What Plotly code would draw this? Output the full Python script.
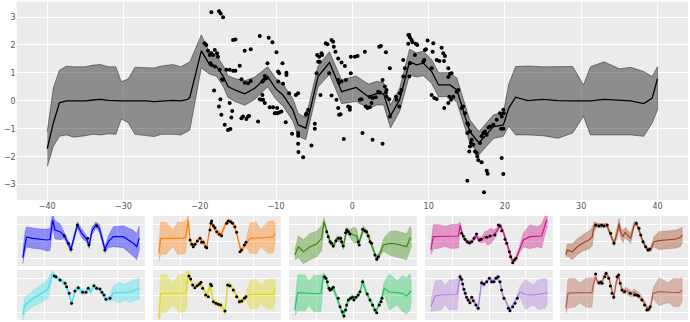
import plotly.graph_objects as go

# ---------------- main panel: pooled posterior (mean and 2-sigma band) ----------------
grid_x = [-40, -39.2, -38.4, -37.5, -36.5, -35, -34, -33, -32, -31, -30.3, -29.4, -28.5,
          -27, -26, -25, -23.5, -22.5, -21.6, -21.3, -19.8, -18.7, -17.8, -16.9, -16.3,
          -15.4, -14.1, -12.8, -11.1, -10.0, -9.1, -7.8, -7.1, -6.1, -4.5, -3.0, -1.4,
          0.5, 2.1, 3.2, 4.1, 5.0, 6.2, 7.5, 8.4, 9.3, 10.4, 11.3, 12.8, 13.7, 14.5,
          15.4, 16.6, 17.4, 18.5, 19.8, 20.5, 21.4, 23, 25, 27, 28.9, 30.3, 31.2, 33,
          35, 36.5, 38.2, 39.3, 40]
grid_mean = [-1.71, -0.80, -0.07, 0.00, 0.00, 0.00, 0.03, 0.05, 0.02, 0.00, 0.00, 0.00, 0.00,
             0.00, -0.03, 0.00, 0.02, 0.00, 0.05, 0.13, 1.79, 1.29, 1.23, 0.87, 0.51,
             0.39, 0.25, 0.45, 0.87, 0.42, 0.21, -0.32, -0.86, -0.98, 0.87, 1.37, 0.33,
             0.48, 0.15, 0.27, 0.25, -0.54, 0.04, 1.40, 1.29, 1.35, 1.05, 0.57, 0.57, 0.39, -0.32,
             -1.10, -1.51, -1.27, -0.92, -0.86, -0.26, 0.13, 0.01, 0.05, 0.01, 0.00, 0.00, 0.00, 0.05,
             0.02, 0.00, -0.10, 0.10, 0.79]
grid_upper = [-1.10, 0.46, 1.10, 1.24, 1.22, 1.22, 1.28, 1.30, 1.22, 1.22, 0.69, 0.78, 1.20,
              1.18, 1.18, 1.25, 1.30, 1.22, 1.35, 1.40, 2.36, 1.72, 1.62, 1.25, 0.90,
              0.80, 0.72, 0.85, 1.22, 0.80, 0.60, 0.08, -0.45, -0.60, 1.25, 1.76, 0.75,
              0.89, 0.60, 0.70, 0.65, -0.15, 0.45, 1.85, 1.72, 1.78, 1.48, 1.01, 1.01, 0.82, 0.10,
              -0.68, -1.10, -0.85, -0.50, -0.40, 0.60, 1.23, 1.25, 1.22, 1.22, 1.23, 0.57, 1.22, 1.40,
              1.15, 1.20, 1.05, 0.87, 1.22]
grid_lower = [-2.36, -1.63, -1.27, -1.22, -1.30, -1.25, -1.20, -1.22, -1.18, -1.20, -0.65, -0.78, -1.20,
              -1.25, -1.28, -1.20, -1.20, -1.22, -1.10, -1.04, 1.18, 0.95, 0.88, 0.50, 0.12,
              -0.02, -0.16, 0.05, 0.50, 0.05, -0.18, -0.72, -1.27, -1.39, 0.50, 0.95, -0.10,
              -0.02, -0.28, -0.15, -0.15, -0.97, -0.38, 0.93, 0.85, 0.90, 0.62, 0.15, 0.15, -0.05, -0.75,
              -1.52, -1.93, -1.70, -1.35, -1.27, -0.90, -1.22, -1.22, -1.25, -1.34, -1.15, -0.56, -1.22, -1.22,
              -1.22, -1.22, -1.27, -0.80, -0.33]

# observations from all ten outputs, pooled
obs_points = [
    (-18.48, 3.17), (-17.48, 3.21), (-17.26, 3.13), (-16.95, 2.99),
    (-19.36, 2.06), (-19.14, 2.0), (-18.92, 1.79), (-18.48, 1.70), (-18.70, 1.64), (-18.26, 1.64),
    (-18.04, 1.82), (-17.74, 1.70), (-17.61, 1.58), (-18.61, 1.35), (-18.48, 1.29), (-18.04, 1.23),
    (-17.39, 1.11), (-15.64, 2.18), (-15.33, 2.20), (-14.11, 1.79), (-13.32, 1.85), (-14.76, 1.26),
    (-12.14, 2.32), (-10.96, 2.26), (-10.48, 2.10), (-9.95, 1.74), (-11.13, 1.35), (-9.16, 1.35),
    (-9.73, 1.05), (-9.60, 0.99), (-8.64, 1.01), (-8.64, 0.93),
    (-16.51, 1.11), (-16.08, 1.11), (-15.64, 1.08), (-15.33, 1.08), (-17.08, 0.77), (-16.95, 0.75),
    (-14.54, 0.77), (-14.11, 0.65), (-13.67, 0.63), (-13.32, 0.71),
    (-11.48, 0.89), (-11.26, 0.81), (-11.61, 0.75), (-11.79, 0.69), (-9.73, 0.69), (-9.08, 0.61),
    (-8.29, 0.27), (-7.41, 0.21), (-7.11, 0.27), (-18.13, 0.37), (-17.30, 0.06), (-17.48, -0.2),
    (-16.08, -0.08), (-15.75, -0.36), (-17.17, -0.5), (-15.86, -0.6),
    (-16.73, -0.86), (-16.30, -1.04), (-15.99, -1.01),
    (-14.54, -0.62), (-14.33, -0.56), (-13.89, -0.65), (-13.67, -0.56), (-13.54, -0.54), (-12.36, -0.74),
    (-12.14, 0.06), (-11.92, 0.04), (-11.70, 0.04), (-11.48, -0.08), (-11.79, 0.21),
    (-10.83, -0.23), (-10.39, -0.23), (-9.86, -0.26), (-10.04, -0.44), (-10.17, -0.44), (-9.86, -0.44),
    (-9.60, -0.42), (-9.30, -0.38), (-8.73, -0.77), (-7.90, -1.18),
    (-7.11, -1.15), (-7.11, -1.25), (-7.11, -1.54), (-7.07, -1.83),
    (-6.45, -2.02), (-6.10, -0.5), (-6.01, -0.44), (-5.80, -0.32), (-5.36, -1.60),
    (-4.92, -0.82), (-4.92, -1.0),
    (-4.62, 1.64), (-4.35, 1.58), (-4.48, 1.40), (-4.70, 0.99), (-4.05, 1.70), (-3.96, 1.64), (-4.27, 1.40),
    (-4.18, 0.21), (-3.48, 2.06), (-3.26, 2.03), (-2.73, 2.18), (-2.52, 2.12), (-2.43, 1.94), (-2.21, 1.76),
    (-3.04, 0.99), (-2.73, 0.19), (-2.08, 0.04), (-1.86, 1.52), (-1.42, 1.37), (-0.98, 1.25),
    (-1.86, 0.75), (-1.73, 0.65), (-1.42, 0.69), (-0.85, 0.75),
    (-1.86, -0.26), (-1.73, -0.5), (-1.55, -0.48), (-0.55, -0.2), (-0.33, -0.32), (-0.33, -0.23),
    (-0.20, 0.99), (-0.20, 1.58), (0.33, 1.58), (0.68, 1.61), (-1.12, -1.37),
    (0.98, 0.04), (1.20, 0.06), (1.33, -1.15), (1.64, 1.76),
    (1.77, -0.2), (1.99, -0.26), (2.30, -0.23), (2.52, -0.08), (2.30, 0.15), (2.65, 0.10), (3.08, 0.13),
    (3.39, 0.33), (3.61, 0.30), (3.96, 0.75), (4.27, 0.51), (4.48, 0.39), (4.40, 0.30), (4.48, 0.15),
    (4.83, 0.06), (4.92, -0.56), (5.71, 0.15), (5.80, 0.04),
    (2.65, -1.39), (3.52, 1.94), (3.74, 1.96), (3.96, -1.54), (4.40, 1.74), (4.92, 1.17),
    (6.15, -0.2), (6.23, 0.27), (6.45, 0.39), (6.67, 0.87), (6.67, 1.46), (6.89, 1.17),
    (7.33, 2.36), (7.46, 2.36), (7.55, 2.27), (7.33, 2.04), (7.76, 2.18), (7.90, 2.10),
    (7.55, 1.35), (7.46, 0.87), (8.33, 2.04), (8.51, 2.0), (8.20, 1.64),
    (9.30, 1.40), (9.43, 1.46), (9.65, 1.85), (9.51, 1.82),
    (9.86, 2.16), (10.61, 2.06), (10.52, 1.76), (11.05, 1.46), (11.70, 1.90), (11.92, 1.70),
    (12.14, 1.61), (12.01, 1.43), (11.40, 1.43),
    (10.39, 1.17), (12.58, 1.17), (12.58, 0.85), (12.80, 0.96),
    (10.39, 0.21), (10.74, 0.10), (11.05, 0.07), (12.05, -0.26), (12.58, -0.08), (12.71, 0.15),
    (12.93, 0.04), (13.23, 0.15), (13.67, 0.33), (13.89, 0.39), (13.01, 0.99),
    (14.33, -0.26), (14.54, -0.2), (14.76, -0.44), (15.07, -0.80), (15.20, -0.86), (15.42, -1.10),
    (15.07, -1.15), (15.64, -1.39), (15.55, -1.51), (15.42, -1.63), (15.86, -1.57), (15.33, -1.81),
    (16.08, -1.81), (16.30, -1.87), (16.38, -1.99), (16.73, -1.51), (16.95, -1.27), (17.17, -1.15),
    (17.39, -1.10), (17.61, -1.21), (17.83, -0.95), (18.04, -0.92), (18.48, -0.86), (18.92, -0.68),
    (19.36, -0.44), (19.58, -0.56), (19.79, -0.32), (19.85, -0.44), (19.5, -1.0), (19.8, -1.0),
    (16.51, -2.13), (16.95, -2.20), (17.61, -2.5), (17.74, -2.61), (15.07, -2.86), (17.26, -3.27),
    (19.58, -2.05), (19.79, -2.62),
]

# ---------------- ten individual outputs: mean, 2-sigma half width, observations ----------------
o1_x = [-40, -38.5, -37.5, -33, -28, -23.5, -21.3, -19.5, -17.9, -14.4, -11.5, -8.7, -6.9, -2.5, 0.5,
        3.8, 5.6, 7.5, 10.3, 12.6, 16.5, 18.8, 22.2, 29.1, 36.0, 38.3, 40]
o1_mean = [-1.67, -0.1, 0.4, 0.27, 0.2, 0.1, 0.15, 2.1, 1.1, 0.93, 0.53, -0.23, -0.83, 1.6, 0.77,
           0.2, -0.45, 1.0, 1.6, 1.27, -0.85, -0.07, 0.43, 0.43, -0.23, -0.57, 0.27]
o1_sd = [0.6, 1.0, 1.0, 1.0, 1.0, 1.1, 1.1, 0.8, 0.9, 0.8, 0.3, 0.3, 0.3, 0.3, 0.45,
         0.3, 0.3, 0.4, 0.3, 0.4, 0.3, 0.6, 1.0, 1.1, 1.3, 1.3, 1.2]
o1_obs = [(-11.5, 0.53), (-8.7, -0.23), (-6.9, -0.83), (-2.5, 1.6), (4.6, 0.27), (5.5, -0.4),
          (10.8, 1.53), (16.4, -0.9)]

o2_x = [-40, -38.7, -35, -30.3, -27, -24, -21.5, -19.7, -18.6, -16.3, -14.5, -11.7, -9.4, -7.1,
        -4.1, -2.5, -0.2, 2.7, 6.65, 8.9, 11.2, 13.5, 16.5, 19.9, 22.7, 27, 30.3, 35, 38.7, 40]
o2_mean = [-1.23, 0.27, 0.27, 0.27, 0.27, 0.27, 0.4, 2.1, 0.1, -0.57, -0.23, 0.27, -0.13, -0.67,
           1.93, 1.43, 0.93, 0.6, 1.93, 2.0, 1.77, 0.77, -1.0, -0.23, 0.27, 0.3, 0.3, 0.35, 0.43, 0.77]
o2_sd = [0.9, 1.6, 1.6, 0.85, 1.6, 1.6, 1.6, 0.5, 0.2, 0.2, 0.2, 0.2, 0.2, 0.2,
         0.2, 0.25, 0.3, 0.3, 0.2, 0.2, 0.2, 0.2, 0.2, 0.3, 1.5, 1.6, 0.85, 1.6, 1.6, 1.0]
o2_obs = [(-18.56, 0.1), (-17.4, -0.33), (-16.3, -0.57), (-15.2, -0.33), (-13.6, 0.0), (-11.7, 0.27),
          (-10.6, -0.13), (-9.4, -0.13), (-7.8, -0.57), (-7.1, -0.67), (-4.8, 1.1), (-4.1, 1.77),
          (-3.7, 2.0), (-2.5, 1.53), (-1.4, 1.33), (-0.2, 0.93), (1.6, 0.67), (3.2, 0.53), (6.65, 1.77),
          (7.8, 2.0), (9.4, 1.93), (10.7, 1.77), (12.3, 1.43), (13.5, 0.87), (15.8, -1.07), (16.9, -0.9),
          (18.8, -0.4), (19.9, -0.13)]

o3_x = [-40, -37.6, -34.1, -29.6, -25, -21.5, -19.9, -18.0, -15.8, -13.5, -11.2, -8.5, -6.7, -4.35,
        -2.1, 0.5, 2.5, 4.1, 7.1, 9.85, 12.8, 16.3, 18.6, 20.9, 25.4, 30, 36.9, 39.2, 40]
o3_mean = [-1.4, -0.57, -1.07, -0.57, -0.3, 0.27, 1.93, 0.93, -0.07, -0.5, 0.2, 0.2, -0.57, 1.1,
           0.77, 0.6, 0.5, -0.23, 1.2, 0.77, -0.4, -1.8, -1.23, -0.4, -0.23, -0.3, -0.57, 0.27, 0.3]
o3_sd = [0.5, 1.1, 1.2, 1.3, 1.3, 1.2, 0.4, 0.25, 0.25, 0.25, 0.25, 0.3, 0.3, 0.3,
         0.35, 0.8, 0.7, 0.3, 0.3, 0.25, 0.25, 0.25, 0.25, 0.6, 1.2, 1.3, 1.3, 1.2, 0.9]
o3_obs = [(-18.1, 0.93), (-17.0, 0.43), (-15.8, -0.07), (-14.7, -0.23), (-13.5, -0.5), (-11.7, 0.03),
          (-10.1, 0.27), (-8.5, 0.27), (-7.8, -0.07), (-6.7, -0.5), (-5.1, 0.83), (-4.4, 1.1),
          (-3.2, 0.93), (-2.1, 0.7), (3.6, -0.07), (4.3, -0.4), (6.6, 1.17), (8.2, 1.03), (9.4, 0.93),
          (10.5, 0.5), (11.7, -0.07), (12.8, -0.23), (15.1, -1.4), (16.3, -1.83), (17.4, -1.57)]

o4_x = [-40, -38.3, -35, -30.3, -26, -21, -19.9, -18.1, -15.4, -13.1, -10.8, -9.0, -7.4, -5.0,
        -2.7, -1.1, 1.0, 3.0, 5.0, 7.6, 9.4, 12.15, 14.4, 16.3, 18.6, 20.9, 23.6, 28.2, 33, 36.2, 39.6, 40]
o4_mean = [-0.9, 0.43, 0.45, 0.45, 0.45, 0.5, 1.6, 0.5, -0.07, -0.2, 0.1, 0.6, 0.2, 0.1,
           0.45, 0.3, 0.5, 0.6, 0.9, 1.55, 1.1, -0.23, -1.4, -2.1, -1.73, -0.9, 0.1, 0.43, 0.43, 0.5, 2.1, 2.1]
o4_sd = [0.5, 1.2, 1.2, 1.0, 1.2, 1.2, 0.3, 0.2, 0.2, 0.2, 0.2, 0.2, 0.25, 0.3,
         0.5, 0.7, 0.8, 0.5, 0.35, 0.2, 0.2, 0.2, 0.2, 0.2, 0.2, 0.3, 0.7, 1.2, 1.0, 1.2, 0.8, 0.8]
o4_obs = [(-18.8, 0.77), (-17.6, 0.5), (-16.5, 0.17), (-14.9, -0.07), (-13.5, -0.17), (-11.9, -0.07),
          (-10.3, 0.27), (-8.5, 0.7), (-6.6, 0.1), (-5.5, 0.17), (-1.6, 0.37), (0.7, 0.5), (4.1, 0.6),
          (6.4, 1.6), (7.6, 1.5), (8.7, 1.03), (11.0, 0.17), (12.15, -0.23), (14.0, -1.07),
          (14.9, -1.57), (16.3, -2.17), (17.4, -1.9), (18.6, -1.73)]

o5_x = [-40, -39, -35.5, -32.1, -28.6, -24.1, -21.8, -20.6, -18.4, -15.4, -13.7, -11.9, -9.6, -6.9,
        -4.6, -3.4, -2.3, -0.7, 0.7, 2.3, 4.6, 6.9, 8.5, 10.3, 12.6, 14.9, 16.5, 18.3, 20.6, 24.1,
        31.0, 36, 39.0, 40]
o5_mean = [-1.4, -0.9, -1.07, -0.57, -0.23, 0.1, 0.43, 1.43, 1.6, 1.5, 1.55, 1.6, 0.77, -0.23,
           0.87, 1.77, 0.87, 0.43, 0.87, 0.6, 0.27, 1.6, 1.77, 1.1, 0.1, -0.57, -0.9, -0.83, -0.07, 0.03,
           0.1, 0.2, 0.37, 0.6]
o5_sd = [0.3, 0.6, 0.8, 0.8, 0.8, 0.9, 0.9, 0.5, 0.2, 0.2, 0.2, 0.2, 0.25, 0.25,
         0.5, 0.5, 0.5, 0.6, 0.5, 0.5, 0.5, 0.3, 0.2, 0.2, 0.2, 0.2, 0.2, 0.2, 0.5, 0.9,
         0.9, 0.9, 0.9, 0.8]
o5_obs = [(-19.5, 1.6), (-17.2, 1.5), (-15.4, 1.6), (-13.8, 1.5), (-11.5, 1.6), (-9.2, 0.77),
          (-6.9, -0.23), (8.5, 1.77), (10.3, 1.27), (11.5, 0.6), (13.1, -0.07), (14.9, -0.57),
          (16.5, -0.9), (17.6, -0.83)]

o6_x = [-40, -38.5, -32.8, -25.9, -22.5, -19.5, -18.3, -14.4, -11.0, -9.9, -8.2, -6.4, -4.1, -1.8,
        0.8, 3.4, 5.0, 6.5, 8.9, 10.8, 12.9, 14.9, 17.2, 19.9, 22.2, 26, 30.3, 34, 40]
o6_mean = [-2.0, -1.0, -0.33, 0.27, 0.67, 2.17, 1.9, 1.5, 1.17, 0.83, 0.17, -0.83, 0.4, 0.73,
           0.3, 0.27, 0.67, 0.3, 0.93, 0.67, 0.6, 0.1, -0.43, -0.33, 0.17, 0.25, 0.27, 0.3, 0.67]
o6_sd = [0.6, 0.8, 0.8, 0.9, 1.0, 0.3, 0.2, 0.2, 0.2, 0.2, 0.2, 0.2, 0.25, 0.25,
         0.3, 0.25, 0.25, 0.2, 0.2, 0.2, 0.2, 0.2, 0.2, 0.25, 0.7, 1.05, 0.8, 1.05, 1.05]
o6_obs = [(-18.33, 1.9), (-17.2, 1.83), (-14.4, 1.5), (-11.0, 1.17), (-9.9, 0.83), (-8.1, 0.17),
          (-6.5, -0.83), (-4.2, 0.4), (-1.9, 0.73), (1.1, 0.27), (3.4, 0.27), (5.0, 0.67), (8.9, 0.93),
          (10.7, 0.67), (13.0, 0.6), (14.4, 0.27), (15.8, 0.0), (17.2, -0.43), (19.9, -0.33)]

o7_x = [-40, -38.7, -35, -30.3, -26, -22.5, -21, -19.7, -18.6, -16.3, -14.1, -11.7, -9.4, -7.1,
        -4.8, -2.5, 0.5, 3.2, 5.5, 7.3, 8.9, 12.3, 15.8, 18.1, 19.9, 22.7, 27, 30.3, 34, 38.7, 40]
o7_mean = [-2.33, 0.15, 0.15, 0.15, 0.15, 0.2, 0.5, 2.33, 1.7, 0.83, 1.0, 1.17, 0.67, -0.1,
           1.0, -0.67, -0.9, -1.1, -1.67, 1.0, 1.0, 0.3, -0.67, -0.5, -0.17, 0.07, 0.07, 0.07, 0.07, 0.07, 0.67]
o7_sd = [1.0, 1.9, 1.9, 1.1, 1.9, 1.9, 1.8, 0.3, 0.25, 0.25, 0.25, 0.25, 0.25, 0.3,
         0.3, 0.3, 0.3, 0.3, 0.3, 0.3, 0.25, 0.25, 0.25, 0.25, 0.3, 1.4, 1.5, 0.9, 1.5, 1.5, 1.0]
o7_obs = [(-19.25, 1.9), (-18.1, 1.6), (-16.7, 1.0), (-15.2, 0.73), (-13.6, 0.93), (-12.2, 1.07),
          (-11.0, 1.27), (-9.9, 0.67), (-7.8, 0.0), (-6.0, -0.17), (-4.4, 1.07), (-3.7, 0.93),
          (-2.5, -0.67), (-0.7, -0.83), (0.9, -0.93), (2.5, -1.0), (5.5, -1.6), (7.3, 1.0), (8.9, 0.93),
          (11.2, 0.5), (13.5, -0.17), (15.4, -0.67), (17.0, -0.6), (18.8, -0.33), (19.9, -0.17)]

o8_x = [-40, -38.0, -33, -30.3, -27, -22, -20.4, -19.2, -18, -16.9, -15.8, -13.5, -11.2, -8.9,
        -6.7, -4.8, -3.2, -0.9, 1.4, 3.6, 4.8, 6.65, 8.9, 11.7, 14.0, 15.8, 18.1, 19.75, 21.4,
        25, 30.3, 34, 36.9, 39.2, 40]
o8_mean = [-1.5, 0.23, 0.2, 0.15, 0.15, 0.15, 1.83, 1.83, 1.5, 0.67, 0.57, 0.67, -0.17, -1.17,
           -2.1, -1.33, -0.5, -0.17, -0.33, 0.0, 0.33, 1.33, 0.33, -0.5, -1.17, -1.67, -0.83, -0.33, 0.67,
           0.3, 0.23, 0.15, -0.1, 0.33, 0.4]
o8_sd = [0.6, 1.8, 1.8, 1.2, 1.8, 1.8, 0.35, 0.25, 0.2, 0.2, 0.2, 0.25, 0.25, 0.25,
         0.25, 0.25, 0.2, 0.2, 0.2, 0.2, 0.2, 0.3, 0.3, 0.25, 0.2, 0.2, 0.2, 0.25, 0.6,
         1.8, 1.2, 1.8, 1.8, 1.8, 1.0]
o8_obs = [(-19.7, 1.83), (-18.6, 1.67), (-17.6, 1.33), (-16.5, 0.67), (-15.8, 0.5), (-14.7, 0.6),
          (-13.5, 0.77), (-10.1, -0.33), (-8.9, -1.17), (-7.3, -1.67), (-6.2, -2.1), (-5.1, -1.5),
          (-4.4, -1.0), (-3.2, -0.5), (-1.6, -0.33), (-0.3, -0.23), (0.6, -0.5), (2.0, -0.23),
          (3.6, 0.0), (4.8, 0.33), (6.6, 1.33), (9.8, 0.1), (11.7, -0.5), (13.5, -1.0), (15.1, -1.5),
          (16.3, -1.77), (18.1, -1.0), (19.3, -0.67), (19.9, -0.33)]

o9_x = [-40, -37.1, -33, -30.3, -27, -22, -19.9, -18.8, -17.6, -16.5, -15.4, -13.5, -11.9, -10.8,
        -9.0, -7.4, -5.1, -3.5, -1.6, 0.7, 3.0, 5.3, 7.6, 9.4, 11.7, 14.4, 16.7, 19.0, 21.3, 25,
        30.3, 34, 38.5, 40]
o9_mean = [-1.17, -0.1, 0.0, 0.0, 0.0, 0.05, 1.83, 1.5, 0.67, 0.17, -0.33, -0.67, -0.23, -0.5,
           -1.0, -1.33, 1.33, 1.0, 1.33, 1.67, 1.33, 1.83, 1.17, 0.0, -0.67, -1.5, -1.0, -0.33, 0.33, 0.05,
           0.0, 0.05, 0.17, 0.3]
o9_sd = [0.5, 1.5, 1.5, 1.0, 1.5, 1.5, 0.3, 0.2, 0.2, 0.2, 0.2, 0.2, 0.2, 0.2,
         0.2, 0.25, 0.25, 0.2, 0.2, 0.2, 0.2, 0.2, 0.2, 0.2, 0.2, 0.2, 0.2, 0.2, 0.5, 1.5,
         1.0, 1.5, 1.5, 1.2]
o9_obs = [(-19.9, 1.83), (-18.8, 1.57), (-18.1, 1.1), (-17.2, 0.57), (-16.3, 0.17), (-15.4, -0.23),
          (-14.3, -0.5), (-13.1, -0.77), (-11.9, -0.23), (-10.8, -0.57), (-9.0, -1.0), (-7.4, -1.33),
          (-5.1, 1.23), (-3.5, 1.1), (-1.6, 1.33), (0.2, 1.67), (1.8, 1.33), (3.4, 1.33), (4.8, 1.67),
          (6.4, 1.83), (7.6, 1.33), (8.7, 0.5), (10.3, -0.33), (13.3, -1.33), (14.4, -1.57),
          (16.3, -1.17), (17.9, -0.83), (19.5, -0.33)]

o10_x = [-40, -38.5, -34, -30.3, -26, -22, -20.6, -19.4, -18.3, -17.2, -15.4, -13.75, -12.1, -10.3,
         -8.4, -6.9, -5.7, -3.9, -2.3, -0.7, 1.1, 3.4, 5.3, 6.9, 8.5, 10.3, 12.6, 14.9, 16.7, 18.3,
         19.9, 24.1, 30.3, 34, 37.9, 40]
o10_mean = [-1.33, 0.17, 0.23, 0.23, 0.23, 0.23, 1.33, 1.8, 1.33, 1.2, 1.2, 1.83, 2.17, 1.67,
            0.5, -0.23, 1.0, 2.0, 1.0, 0.33, 0.5, 0.23, 0.1, 0.3, 0.1, -0.05, -0.43, -1.0, -1.5, -1.17,
            0.17, 0.33, 0.25, 0.25, 0.23, 0.5]
o10_sd = [0.5, 1.45, 1.45, 1.0, 1.45, 1.45, 0.4, 0.2, 0.2, 0.2, 0.2, 0.2, 0.2, 0.2,
          0.2, 0.2, 0.3, 0.2, 0.25, 0.25, 0.3, 0.3, 0.3, 0.3, 0.3, 0.3, 0.25, 0.2, 0.2, 0.25,
          0.5, 1.4, 1.0, 1.4, 1.4, 1.2]
o10_obs = [(-19.5, 2.1), (-17.2, 1.23), (-16.1, 1.3), (-15.0, 1.17), (-13.2, 1.83), (-12.3, 2.17),
           (-10.5, 1.67), (-9.4, 0.9), (-8.2, 0.17), (-7.1, -0.23), (-4.8, 1.83), (-3.7, 2.0),
           (-2.6, 1.17), (-1.4, 0.5), (0.4, 0.33), (4.3, 0.17), (7.3, 0.0), (8.9, 0.0), (10.0, -0.1),
           (12.3, -0.5), (14.1, -1.0), (15.7, -1.5), (16.9, -1.43), (18.0, -1.17)]

output_colors = ["#0000ff", "#ff7f0e", "#3a8a10", "#d0148a", "#a0461e",
                 "#40e0f0", "#e0d814", "#22c55e", "#b57fdc", "#b5634a"]

outputs = [
    (o1_x, o1_mean, o1_sd, o1_obs), (o2_x, o2_mean, o2_sd, o2_obs), (o3_x, o3_mean, o3_sd, o3_obs),
    (o4_x, o4_mean, o4_sd, o4_obs), (o5_x, o5_mean, o5_sd, o5_obs), (o6_x, o6_mean, o6_sd, o6_obs),
    (o7_x, o7_mean, o7_sd, o7_obs), (o8_x, o8_mean, o8_sd, o8_obs), (o9_x, o9_mean, o9_sd, o9_obs),
    (o10_x, o10_mean, o10_sd, o10_obs),
]

# ---------------- styling ----------------
W, H = 690, 322
PANEL_BG = "#EBEBEB"
TICK_FONT = dict(family="DejaVu Sans", size=8, color="#555555")


def rgba(hex_color, alpha):
    h = hex_color.lstrip("#")
    r, g, b = int(h[0:2], 16), int(h[2:4], 16), int(h[4:6], 16)
    return f"rgba({r},{g},{b},{alpha})"


def band_trace(xs, upper, lower, color, xa, ya, edge_width):
    return go.Scatter(
        x=list(xs) + list(xs)[::-1],
        y=list(upper) + list(lower)[::-1],
        mode="lines", fill="toself", fillcolor=color,
        line=dict(color=color, width=edge_width),
        hoverinfo="skip", showlegend=False, xaxis=xa, yaxis=ya,
    )


fig = go.Figure()

# main panel
fig.add_trace(band_trace(grid_x, grid_upper, grid_lower, "rgba(0,0,0,0.4)", "x", "y", 1))
fig.add_trace(go.Scatter(x=grid_x, y=grid_mean, mode="lines", line=dict(color="black", width=1.3),
                         showlegend=False, xaxis="x", yaxis="y"))
fig.add_trace(go.Scatter(x=[p[0] for p in obs_points], y=[p[1] for p in obs_points], mode="markers",
                         marker=dict(color="black", size=4), showlegend=False, xaxis="x", yaxis="y"))

layout = dict(
    width=W, height=H, margin=dict(l=0, r=0, t=0, b=0),
    paper_bgcolor="white", plot_bgcolor=PANEL_BG, showlegend=False,
    xaxis=dict(domain=[16.7 / W, 688 / W], range=[-44, 44], tickvals=list(range(-40, 41, 10)),
               showgrid=True, gridcolor="white", gridwidth=1, zeroline=False, showline=False,
               ticks="", tickfont=TICK_FONT, anchor="y"),
    yaxis=dict(domain=[1 - 200 / H, 1 - 1.7 / H], range=[-3.55, 3.55], tickvals=list(range(-3, 4)),
               showgrid=True, gridcolor="white", gridwidth=1, zeroline=False, showline=False,
               ticks="", tickfont=TICK_FONT, anchor="x"),
)

col_px = [(17, 145), (153, 281), (289, 417), (425, 553), (560, 688)]
row_px = [(216, 266), (270, 320)]

for i, (xs, mean, sd, obs) in enumerate(outputs):
    n = i + 2
    xa, ya = f"x{n}", f"y{n}"
    (left, right), (top, bottom) = col_px[i % 5], row_px[i // 5]
    color = output_colors[i]
    upper = [m + s for m, s in zip(mean, sd)]
    lower = [m - s for m, s in zip(mean, sd)]
    fig.add_trace(band_trace(xs, upper, lower, rgba(color, 0.4), xa, ya, 0.6))
    fig.add_trace(go.Scatter(x=xs, y=mean, mode="lines", line=dict(color=color, width=1.2),
                             showlegend=False, xaxis=xa, yaxis=ya))
    fig.add_trace(go.Scatter(x=[p[0] for p in obs], y=[p[1] for p in obs], mode="markers",
                             marker=dict(color="black", size=3), showlegend=False,
                             xaxis=xa, yaxis=ya))
    layout[f"xaxis{n}"] = dict(domain=[left / W, right / W], range=[-44, 44], tickvals=[-25, 0, 25],
                               showticklabels=False, showgrid=True, gridcolor="white", gridwidth=1,
                               zeroline=False, showline=False, ticks="", anchor=ya)
    layout[f"yaxis{n}"] = dict(domain=[1 - bottom / H, 1 - top / H], range=[-2.5, 2.5],
                               tickvals=[-1.7, 0, 1.7], showticklabels=False, showgrid=True,
                               gridcolor="white", gridwidth=1, zeroline=False, showline=False,
                               ticks="", anchor=xa)

fig.update_layout(**layout)
fig.write_html("out.html")
